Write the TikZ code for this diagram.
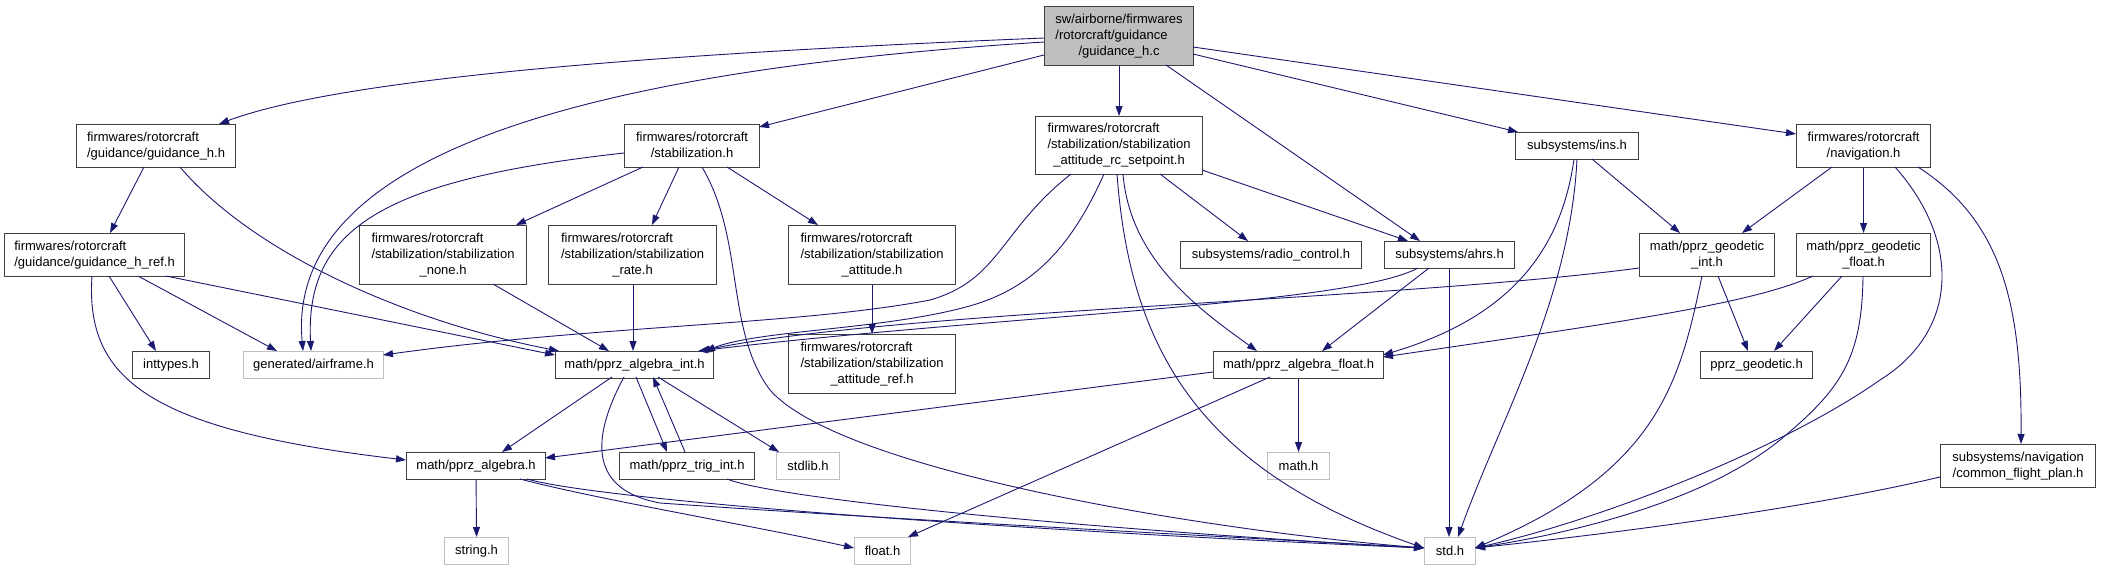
\documentclass[tikz,border=0pt]{standalone}
\usepackage{fontspec}
\setmainfont{Liberation Sans}
\usetikzlibrary{arrows.meta,calc}
\definecolor{edgec}{HTML}{191970}
\definecolor{bordc}{HTML}{404040}
\definecolor{lgrayc}{HTML}{BFBFBF}
\newcommand\mlab[2]{\begin{tabular}{@{}l@{}}#1\\\multicolumn{1}{@{}c@{}}{#2}\end{tabular}}
\tikzset{
  file/.style={draw=bordc, line width=1.1pt, fill=white, inner sep=0pt, anchor=north west,
    font=\fontsize{13}{16}\selectfont},
  sysfile/.style={file, draw=lgrayc},
  mainfile/.style={file, fill=lgrayc},
  inc/.style={draw=edgec, line width=0.9pt, -{Triangle[length=10pt,width=7pt]}},
}
\begin{document}
\begin{tikzpicture}[x=1pt,y=-1pt]
\useasboundingbox (0,0) rectangle (2101,571);
% nodes
\node[mainfile, minimum width=149pt, minimum height=59pt] (c) at (1044,6) {\mlab{sw/airborne/firmwares\\/rotorcraft/guidance}{/guidance\_h.c}};
\node[file, minimum width=159pt, minimum height=43pt] (gh) at (76,124) {\mlab{firmwares/rotorcraft}{/guidance/guidance\_h.h}};
\node[file, minimum width=180pt, minimum height=43pt] (ghr) at (4,233) {\mlab{firmwares/rotorcraft}{/guidance/guidance\_h\_ref.h}};
\node[file, minimum width=135pt, minimum height=43pt] (stab) at (624,124) {\mlab{firmwares/rotorcraft}{/stabilization.h}};
\node[file, minimum width=167pt, minimum height=59pt] (none) at (359,225) {\mlab{firmwares/rotorcraft\\/stabilization/stabilization}{\_none.h}};
\node[file, minimum width=168pt, minimum height=59pt] (rate) at (548,225) {\mlab{firmwares/rotorcraft\\/stabilization/stabilization}{\_rate.h}};
\node[file, minimum width=167pt, minimum height=59pt] (att) at (788,225) {\mlab{firmwares/rotorcraft\\/stabilization/stabilization}{\_attitude.h}};
\node[file, minimum width=167pt, minimum height=59pt] (attref) at (788,334) {\mlab{firmwares/rotorcraft\\/stabilization/stabilization}{\_attitude\_ref.h}};
\node[file, minimum width=167pt, minimum height=58pt] (rcs) at (1035,116) {\mlab{firmwares/rotorcraft\\/stabilization/stabilization}{\_attitude\_rc\_setpoint.h}};
\node[file, minimum width=181pt, minimum height=27pt] (radio) at (1180,241) {subsystems/radio\_control.h};
\node[file, minimum width=130pt, minimum height=27pt] (ahrs) at (1384,241) {subsystems/ahrs.h};
\node[file, minimum width=123pt, minimum height=27pt] (ins) at (1515,132) {subsystems/ins.h};
\node[file, minimum width=134pt, minimum height=43pt] (nav) at (1796,124) {\mlab{firmwares/rotorcraft}{/navigation.h}};
\node[file, minimum width=135pt, minimum height=43pt] (gint) at (1639,233) {\mlab{math/pprz\_geodetic}{\_int.h}};
\node[file, minimum width=134pt, minimum height=43pt] (gfloat) at (1796,233) {\mlab{math/pprz\_geodetic}{\_float.h}};
\node[file, minimum width=77pt, minimum height=27pt] (inttypes) at (132,351) {inttypes.h};
\node[sysfile, minimum width=140pt, minimum height=27pt] (airframe) at (243,351) {generated/airframe.h};
\node[file, minimum width=158pt, minimum height=27pt] (aint) at (555,351) {math/pprz\_algebra\_int.h};
\node[file, minimum width=170pt, minimum height=27pt] (afloat) at (1213,351) {math/pprz\_algebra\_float.h};
\node[file, minimum width=112pt, minimum height=27pt] (pgeo) at (1700,351) {pprz\_geodetic.h};
\node[file, minimum width=139pt, minimum height=27pt] (palg) at (406,452) {math/pprz\_algebra.h};
\node[file, minimum width=135pt, minimum height=27pt] (trig) at (619,452) {math/pprz\_trig\_int.h};
\node[sysfile, minimum width=63pt, minimum height=27pt] (stdlib) at (776,452) {stdlib.h};
\node[sysfile, minimum width=62pt, minimum height=27pt] (math) at (1267,452) {math.h};
\node[file, minimum width=155pt, minimum height=43pt] (cfp) at (1940,444) {\mlab{subsystems/navigation}{/common\_flight\_plan.h}};
\node[sysfile, minimum width=64pt, minimum height=27pt] (string) at (444,537) {string.h};
\node[sysfile, minimum width=56pt, minimum height=27pt] (float) at (854,537) {float.h};
\node[sysfile, minimum width=51pt, minimum height=27pt] (std) at (1424,537) {std.h};

% edges from guidance_h.c
\draw[inc] ($(c.north west)+(0,32)$) .. controls (700,52) and (350,75) .. ($(gh.north west)+(143,0)$);
\draw[inc] ($(c.north west)+(0,36)$) .. controls (600,70) and (285,150) .. ($(airframe.north west)+(60,0)$);
\draw[inc] ($(c.north west)+(0,49)$) -- ($(stab.north west)+(135,3)$);
\draw[inc] (c.south) -- (rcs.north);
\draw[inc] ($(c.north west)+(122,59)$) -- ($(ahrs.north west)+(36,0)$);
\draw[inc] ($(c.north west)+(149,48)$) -- ($(ins.north west)+(3,0)$);
\draw[inc] ($(c.north west)+(149,41)$) -- ($(nav.north west)+(0,10)$);
% guidance_h.h
\draw[inc] ($(gh.north west)+(68,43)$) -- ($(ghr.north west)+(106,0)$);
\draw[inc] ($(gh.north west)+(104,43)$) .. controls (250,250) and (400,320) .. ($(aint.north west)+(4,0)$);
% guidance_h_ref.h
\draw[inc] ($(ghr.north west)+(105,43)$) -- ($(inttypes.north west)+(24,0)$);
\draw[inc] ($(ghr.north west)+(134,43)$) -- ($(airframe.north west)+(34,0)$);
\draw[inc] ($(ghr.north west)+(162,43)$) -- ($(aint.north west)+(0,4)$);
\draw[inc] ($(ghr.north west)+(88,43)$) .. controls (85,380) and (150,430) .. ($(palg.north west)+(0,8)$);
% stabilization.h
\draw[inc] ($(stab.north west)+(0,29)$) .. controls (380,180) and (305,230) .. ($(airframe.north west)+(68,0)$);
\draw[inc] ($(stab.north west)+(19,43)$) -- ($(none.north west)+(157,0)$);
\draw[inc] ($(stab.north west)+(55,43)$) -- ($(rate.north west)+(104,0)$);
\draw[inc] ($(stab.north west)+(103,43)$) -- ($(att.north west)+(30,0)$);
\draw[inc] ($(stab.north west)+(78,43)$) .. controls (745,240) and (725,330) .. (770,390) .. controls (840,470) and (1200,530) .. ($(std.north west)+(0,11)$);
% rc_setpoint
\draw[inc] ($(rcs.north west)+(36,58)$) .. controls (1000,230) and (1000,280) .. (930,300) .. controls (800,325) and (600,325) .. ($(airframe.north west)+(140,4)$);
\draw[inc] ($(rcs.north west)+(69,58)$) .. controls (1070,250) and (1030,290) .. (966,307) .. controls (880,330) and (760,330) .. ($(aint.north west)+(150,0)$);
\draw[inc] ($(rcs.north west)+(82,58)$) .. controls (1130,350) and (1200,470) .. ($(std.north west)+(0,11)$);
\draw[inc] ($(rcs.north west)+(88,58)$) .. controls (1130,260) and (1200,310) .. ($(afloat.north west)+(44,0)$);
\draw[inc] ($(rcs.north west)+(125,58)$) -- ($(radio.north west)+(68,0)$);
\draw[inc] ($(rcs.north west)+(167,54)$) -- ($(ahrs.north west)+(24,0)$);
% stabilization none / rate / attitude
\draw[inc] ($(none.north west)+(134,59)$) -- ($(aint.north west)+(54,0)$);
\draw[inc] ($(rate.north west)+(85,59)$) -- ($(aint.north west)+(78,0)$);
\draw[inc] (att.south) -- (attref.north);
% pprz_algebra_int.h
\draw[inc] ($(aint.north west)+(57,26)$) -- ($(palg.north west)+(96,0)$);
\draw[inc] ($(aint.north west)+(69,26)$) .. controls (590,440) and (590,490) .. (660,503) .. controls (900,520) and (1200,535) .. ($(std.north west)+(0,11)$);
\draw[inc] ($(aint.north west)+(81,26)$) -- ($(trig.north west)+(48,0)$);
\draw[inc] ($(trig.north west)+(66,0)$) -- ($(aint.north west)+(98,26)$);
\draw[inc] ($(aint.north west)+(103,26)$) -- ($(stdlib.north west)+(3,0)$);
% pprz_algebra.h
\draw[inc] (palg.south) -- (string.north);
\draw[inc] ($(palg.north west)+(114,27)$) .. controls (600,500) and (750,525) .. ($(float.north west)+(0,11)$);
\draw[inc] ($(palg.north west)+(121,27)$) .. controls (600,500) and (1000,530) .. ($(std.north west)+(0,11)$);
% pprz_trig_int.h
\draw[inc] ($(trig.north west)+(108,27)$) .. controls (780,500) and (1100,530) .. ($(std.north west)+(0,11)$);
% pprz_algebra_float.h
\draw[inc] ($(afloat.north west)+(0,21)$) -- ($(palg.north west)+(139,6)$);
\draw[inc] (afloat.south) -- (math.north);
\draw[inc] ($(afloat.north west)+(57,26)$) -- ($(float.north west)+(54,0)$);
% ahrs.h
\draw[inc] ($(ahrs.north west)+(34,27)$) .. controls (1350,305) and (1000,315) .. ($(aint.north west)+(143,0)$);
\draw[inc] ($(ahrs.north west)+(45,27)$) -- ($(afloat.north west)+(109,0)$);
\draw[inc] ($(ahrs.north west)+(65,27)$) -- ($(std.north west)+(25,0)$);
% ins.h
\draw[inc] ($(ins.north west)+(77,27)$) -- ($(gint.north west)+(41,0)$);
\draw[inc] ($(ins.north west)+(62,27)$) .. controls (1570,300) and (1500,420) .. ($(std.north west)+(34,0)$);
\draw[inc] ($(ins.north west)+(59,27)$) .. controls (1560,260) and (1500,320) .. ($(afloat.north west)+(170,4)$);
% navigation.h
\draw[inc] ($(nav.north west)+(36,43)$) -- ($(gint.north west)+(103,0)$);
\draw[inc] (nav.south) -- (gfloat.north);
\draw[inc] ($(nav.north west)+(99,43)$) .. controls (1960,240) and (1960,330) .. (1880,380) .. controls (1780,450) and (1600,520) .. ($(std.north west)+(51,11)$);
\draw[inc] ($(nav.north west)+(122,43)$) .. controls (2000,220) and (2022,300) .. ($(cfp.north west)+(81,0)$);
% pprz_geodetic_int.h
\draw[inc] ($(gint.north west)+(79,43)$) -- ($(pgeo.north west)+(48,0)$);
\draw[inc] ($(gint.north west)+(63,43)$) .. controls (1680,380) and (1660,470) .. ($(std.north west)+(51,11)$);
\draw[inc] ($(gint.north west)+(0,35)$) .. controls (1400,300) and (900,310) .. ($(aint.north west)+(145,0)$);
% pprz_geodetic_float.h
\draw[inc] ($(gfloat.north west)+(46,43)$) -- ($(pgeo.north west)+(74,0)$);
\draw[inc] ($(gfloat.north west)+(17,43)$) .. controls (1750,305) and (1600,325) .. ($(afloat.north west)+(170,6)$);
\draw[inc] ($(gfloat.north west)+(67,43)$) .. controls (1862,360) and (1840,390) .. (1780,440) .. controls (1700,505) and (1560,535) .. ($(std.north west)+(51,11)$);
% common_flight_plan.h
\draw[inc] ($(cfp.north west)+(0,33)$) .. controls (1800,510) and (1600,535) .. ($(std.north west)+(51,11)$);
\end{tikzpicture}
\end{document}
